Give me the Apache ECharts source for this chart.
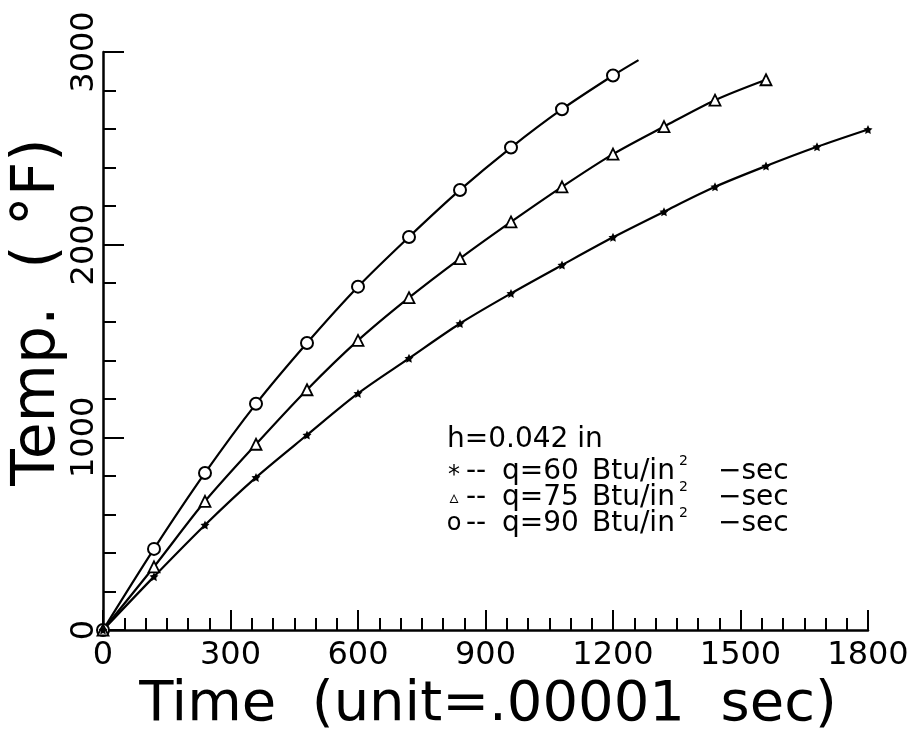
<!DOCTYPE html>
<html>
<head>
<meta charset="utf-8">
<title>Temp vs Time</title>
<script src="https://cdn.jsdelivr.net/npm/echarts@6/dist/echarts.min.js"></script>
<style>
  html, body { margin: 0; background: #fff; }
  #chart { width: 914px; height: 740px; }
</style>
</head>
<body>
<div id="chart"></div>
<script>
// values
const timeQ60 = [0, 120, 240, 360, 480, 600, 720, 840, 960, 1080, 1200, 1320, 1440, 1560, 1680, 1800];
const tempQ60 = [0, 277, 545, 792, 1012, 1228, 1410, 1591, 1747, 1894, 2038, 2171, 2300, 2408, 2508, 2598];

const timeQ75 = [0, 120, 240, 360, 480, 600, 720, 840, 960, 1080, 1200, 1320, 1440, 1560];
const tempQ75 = [0, 328, 668, 964, 1247, 1503, 1725, 1928, 2118, 2300, 2470, 2613, 2750, 2856];

// last point of q=90 is where the curve stops, no marker there
const timeQ90 = [0, 120, 240, 360, 480, 600, 720, 840, 960, 1080, 1200, 1260];
const tempQ90 = [0, 421, 815, 1174, 1490, 1782, 2040, 2284, 2504, 2703, 2878, 2958];

const xTicks = [0, 300, 600, 900, 1200, 1500, 1800];
const yTicks = [0, 1000, 2000, 3000];

const legendHead = 'h=0.042 in';
const legendMarks = ['*', '\u25B5', 'o'];
const legendQ = ['q=60', 'q=75', 'q=90'];

const FONT = '"DejaVu Sans", sans-serif';
const starPath = 'path://M0,-10L2.9,-4L9.5,-3.1L4.7,1.5L5.9,8.1L0,5L-5.9,8.1L-4.7,1.5L-9.5,-3.1L-2.9,-4Z';

function pairs(xs, ys) {
  return xs.map((x, i) => [x, ys[i]]);
}

const chart = echarts.init(document.getElementById('chart'), null, { renderer: 'canvas' });

const lineStyle = { color: '#000', width: 2.2 };

// legend block drawn as plain text pieces
const legendGraphic = [];
const rowY = [472, 498, 524];
legendGraphic.push({
  type: 'text', x: 447, y: 440,
  style: { text: legendHead, fontSize: 28, fontFamily: FONT, fill: '#000', textVerticalAlign: 'middle', verticalAlign: 'middle' }
});
legendQ.forEach((q, i) => {
  const y = rowY[i];
  const base = { fontFamily: FONT, fill: '#000', textVerticalAlign: 'middle', verticalAlign: 'middle' };
  legendGraphic.push(
    { type: 'text', x: 454, y: y + (i === 0 ? 4 : 0), style: Object.assign({ text: legendMarks[i], fontSize: i === 1 ? 18 : 24, textAlign: 'center', align: 'center' }, base) },
    { type: 'text', x: 466, y: y, style: Object.assign({ text: '--', fontSize: 28 }, base) },
    { type: 'text', x: 502, y: y, style: Object.assign({ text: q, fontSize: 28 }, base) },
    { type: 'text', x: 592, y: y, style: Object.assign({ text: 'Btu/in', fontSize: 28 }, base) },
    { type: 'text', x: 679, y: y - 11, style: Object.assign({ text: '2', fontSize: 14 }, base) },
    { type: 'text', x: 718, y: y, style: Object.assign({ text: '\u2212sec', fontSize: 28 }, base) }
  );
});

chart.setOption({
  animation: false,
  backgroundColor: '#fff',
  grid: { left: 103, right: 46, top: 52, bottom: 110, containLabel: false },
  xAxis: {
    type: 'value',
    min: xTicks[0],
    max: xTicks[xTicks.length - 1],
    interval: xTicks[1] - xTicks[0],
    axisLine: { show: true, lineStyle: { color: '#000', width: 2.5 } },
    axisTick: { show: true, inside: true, length: 20, lineStyle: { color: '#000', width: 2 } },
    minorTick: { show: true, splitNumber: 6, length: 12, lineStyle: { color: '#000', width: 2 } },
    splitLine: { show: false },
    axisLabel: { color: '#000', fontSize: 32, fontFamily: FONT, margin: 10, formatter: v => String(v) }
  },
  yAxis: {
    type: 'value',
    min: yTicks[0],
    max: yTicks[yTicks.length - 1],
    interval: yTicks[1] - yTicks[0],
    axisLine: { show: true, lineStyle: { color: '#000', width: 2.5 } },
    axisTick: { show: true, inside: true, length: 21, lineStyle: { color: '#000', width: 2 } },
    minorTick: { show: true, splitNumber: 5, length: 13, lineStyle: { color: '#000', width: 2 } },
    splitLine: { show: false },
    axisLabel: { color: '#000', fontSize: 32, fontFamily: FONT, rotate: 90, margin: 2, formatter: v => String(v) }
  },
  graphic: [
    {
      type: 'text', x: 38, y: 312, rotation: Math.PI / 2,
      style: { text: 'Temp.  ( \u00B0F)', fontSize: 60, fontFamily: FONT, fill: '#000',
        textAlign: 'center', align: 'center', textVerticalAlign: 'middle', verticalAlign: 'middle' }
    },
    {
      type: 'text', x: 488, y: 705,
      style: { text: 'Time  (unit=.00001  sec)', fontSize: 56, fontFamily: FONT, fill: '#000',
        textAlign: 'center', align: 'center', textVerticalAlign: 'middle', verticalAlign: 'middle' }
    }
  ].concat(legendGraphic),
  series: [
    {
      name: 'q=90',
      type: 'line',
      smooth: 0.3,
      data: pairs(timeQ90, tempQ90).map((p, i, arr) =>
        i === arr.length - 1 ? { value: p, symbol: 'none' } : p),
      symbol: 'circle',
      symbolSize: 12,
      itemStyle: { color: '#fff', borderColor: '#000', borderWidth: 2 },
      lineStyle: lineStyle
    },
    {
      name: 'q=75',
      type: 'line',
      smooth: 0.3,
      data: pairs(timeQ75, tempQ75),
      symbol: 'triangle',
      symbolSize: 11,
      itemStyle: { color: '#fff', borderColor: '#000', borderWidth: 1.8 },
      lineStyle: lineStyle
    },
    {
      name: 'q=60',
      type: 'line',
      smooth: 0.3,
      data: pairs(timeQ60, tempQ60),
      symbol: starPath,
      symbolSize: 9,
      itemStyle: { color: '#000', borderColor: '#000', borderWidth: 0 },
      lineStyle: lineStyle
    }
  ]
});
</script>
</body>
</html>
